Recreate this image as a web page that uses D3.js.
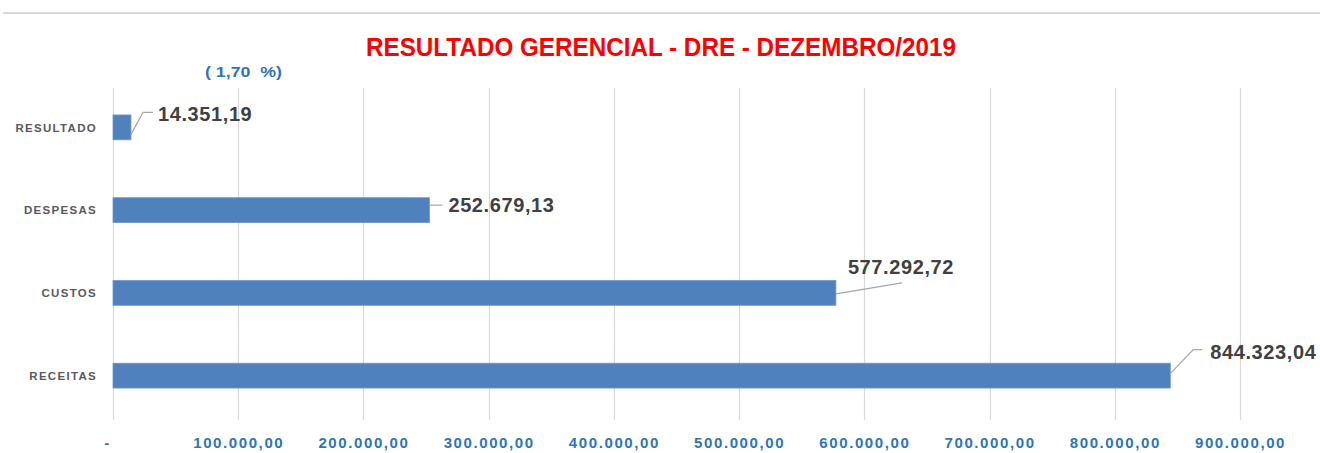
<!DOCTYPE html>
<html>
<head>
<meta charset="utf-8">
<script src="https://cdn.jsdelivr.net/npm/d3@7"></script>
<style>
  body { margin: 0; background: #fff; }
  svg { display: block; }
</style>
</head>
<body>
<svg class="chart-1"></svg>
<script>
// categorias de cima para baixo
var categories = ["RESULTADO", "DESPESAS", "CUSTOS", "RECEITAS"];
var values = [14351.19, 252679.13, 577292.72, 844323.04];
var tickValues = [0, 100000, 200000, 300000, 400000, 500000, 600000, 700000, 800000, 900000];
var tickLabels = ["-", "100.000,00", "200.000,00", "300.000,00", "400.000,00", "500.000,00", "600.000,00", "700.000,00", "800.000,00", "900.000,00"];
var title = "RESULTADO GERENCIAL - DRE - DEZEMBRO/2019";
var subtitle = "( 1,70  %)";

// posicao manual dos rotulos (como no excel): deslocamento do texto e linha guia
var labelLayout = [
  {dx: 27, dy: -6, leader: [[0, 7], [12, -15], [22, -15]]},
  {dx: 19, dy: 2, leader: [[0, -5], [13, -5]]},
  {dx: 12, dy: -19, leader: [[0, 1], [66, -10]]},
  {dx: 40, dy: -17, leader: [[0, -2], [23, -26], [32, -26]]}
];

var width = 1320, height = 453;
var margin = {top: 86, right: 80, bottom: 36, left: 113};

var fmt = d3.formatLocale({decimal: ",", thousands: ".", grouping: [3], currency: ["", ""]}).format(",.2f");

var svg = d3.select(".chart-1")
  .attr("width", width)
  .attr("height", height);

// linha cinza no topo
svg.append("line")
  .attr("x1", 3).attr("x2", width)
  .attr("y1", 13).attr("y2", 13)
  .attr("stroke", "#d9d9d9")
  .attr("stroke-width", 2);

var x = d3.scaleLinear()
  .domain([0, 900000])
  .range([margin.left, 1240]);

var y = d3.scaleBand()
  .domain(categories)
  .range([margin.top, height - margin.bottom])
  .paddingInner(0.7)
  .paddingOuter(0.35);

// grade vertical
svg.append("g")
  .selectAll("line")
  .data(tickValues)
  .enter().append("line")
  .attr("x1", d => Math.round(x(d)) + 0.5)
  .attr("x2", d => Math.round(x(d)) + 0.5)
  .attr("y1", 88)
  .attr("y2", 420)
  .attr("stroke", "#d9d9d9")
  .attr("stroke-width", 1.2);

// eixo x (rotulos)
var xAxis = svg.append("g")
  .attr("transform", "translate(0,448)")
  .call(d3.axisBottom(x).tickValues(tickValues).tickSize(0).tickPadding(0)
    .tickFormat((d, i) => tickLabels[i]));
xAxis.select(".domain").remove();
xAxis.selectAll("text")
  .attr("y", 0).attr("dy", 0)
  .attr("dx", (d, i) => i == 0 ? -6 : 0)
  .attr("fill", "#2e75b6")
  .style("font-family", "'Liberation Sans', Arial, sans-serif")
  .style("font-weight", "bold")
  .style("font-size", "15px")
  .style("letter-spacing", "1.6px");

// eixo y (categorias)
var yAxis = svg.append("g")
  .attr("transform", "translate(97,0)")
  .call(d3.axisLeft(y).tickSize(0).tickPadding(0));
yAxis.select(".domain").remove();
yAxis.selectAll("text")
  .attr("fill", "#595959")
  .attr("dy", "0.36em")
  .style("font-family", "'Liberation Sans', Arial, sans-serif")
  .style("font-weight", "bold")
  .style("font-size", "11.5px")
  .style("letter-spacing", "1.3px");

// barras
svg.append("g")
  .selectAll("rect")
  .data(values)
  .enter().append("rect")
  .attr("x", x(0))
  .attr("y", (d, i) => y(categories[i]))
  .attr("width", d => x(d) - x(0))
  .attr("height", y.bandwidth())
  .attr("fill", "#4f81bd")
  .attr("stroke", "#6d97c9")
  .attr("stroke-width", 0.8);

// linhas guia dos rotulos
var line = d3.line();
svg.append("g")
  .selectAll("path")
  .data(values)
  .enter().append("path")
  .attr("d", (d, i) => {
    var x0 = x(d), y0 = y(categories[i]) + y.bandwidth() / 2;
    return line(labelLayout[i].leader.map(p => [x0 + p[0], y0 + p[1]]));
  })
  .attr("fill", "none")
  .attr("stroke", "#a6a6a6")
  .attr("stroke-width", 1.2);

// rotulos de dados
svg.append("g")
  .selectAll("text")
  .data(values)
  .enter().append("text")
  .attr("x", (d, i) => x(d) + labelLayout[i].dx)
  .attr("y", (d, i) => y(categories[i]) + y.bandwidth() / 2 + labelLayout[i].dy)
  .attr("fill", "#404040")
  .style("font-family", "'Liberation Sans', Arial, sans-serif")
  .style("font-weight", "bold")
  .style("font-size", "20px")
  .style("letter-spacing", "0.6px")
  .text(d => fmt(d));

// titulo
svg.append("text")
  .attr("x", 366)
  .attr("y", 56)
  .attr("textLength", 590)
  .attr("lengthAdjust", "spacingAndGlyphs")
  .attr("fill", "#ff0000")
  .style("font-family", "'Liberation Sans Narrow', 'Arial Narrow', 'Liberation Sans', sans-serif")
  .style("font-weight", "bold")
  .style("font-size", "26px")
  .style("white-space", "pre")
  .text(title);

svg.append("text")
  .attr("x", 205)
  .attr("y", 77)
  .attr("textLength", 77)
  .attr("lengthAdjust", "spacingAndGlyphs")
  .attr("fill", "#2e75b6")
  .style("font-family", "'Liberation Sans', Arial, sans-serif")
  .style("font-weight", "bold")
  .style("font-size", "15px")
  .style("white-space", "pre")
  .text(subtitle);
</script>
</body>
</html>
